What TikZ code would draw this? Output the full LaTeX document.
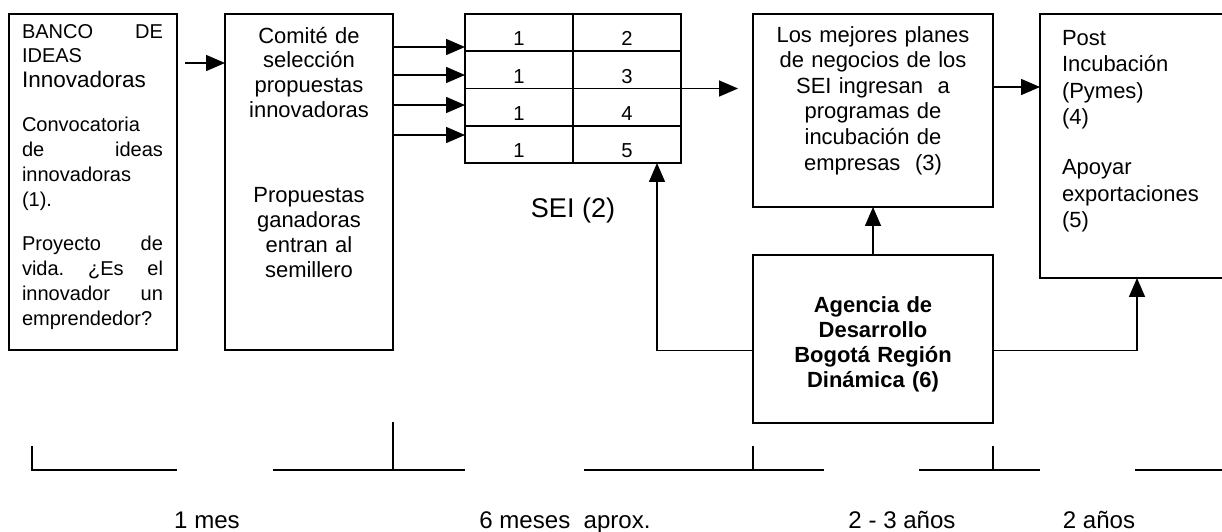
\documentclass[tikz,border=0pt]{standalone}
\usepackage{fontspec}
\setmainfont{Liberation Sans}
\usetikzlibrary{arrows.meta}

\begin{document}
\begin{tikzpicture}[x=.02cm,y=-.02cm,>={Triangle[length=.38cm,width=.32cm]},
 every node/.style={font=\fontsize{12.5}{14.2}\selectfont,inner sep=0pt,outer sep=0pt},
 box/.style={draw,line width=1.1pt},
 cell/.style={draw,line width=1.1pt,minimum width=2.16cm,minimum height=.745cm,
  font=\fontsize{11.5}{13}\selectfont,text height=.53cm,text depth=0pt},
 txt/.style={anchor=base,align=center},
 arr/.style={->,line width=.85pt},
 tick/.style={line width=.85pt},
 lapso/.style={anchor=base,font=\fontsize{13.7}{16}\selectfont}]
\useasboundingbox (0,0) rectangle (1222,531);
\clip (0,0) rectangle (1222,531);
\node[box,minimum width=3.36cm,minimum height=6.72cm] (banco) at (93,182) {};
\node[box,minimum width=3.36cm,minimum height=6.72cm] (comite) at (309,182) {};
\node[box,minimum width=4.8cm,minimum height=3.86cm] (planes) at (873,110.5) {};
\node[box,minimum width=3.88cm,minimum height=5.28cm] (post) at (1137,146) {};
\node[box,minimum width=4.8cm,minimum height=3.36cm] (agencia) at (873,339) {};
\foreach \r [count=\i] in {2,3,4,5} {
 \node[cell] (l\i) at (519,{14+37.25*(\i-.5)}) {1};
 \node[cell] (r\i) at (627,{14+37.25*(\i-.5)}) {\r};
}
\node[anchor=base west,text width=2.82cm,align=left,font=\fontsize{11.4}{14.2}\selectfont] (bancotxt) at (22,38)
 {BANCO\hfill DE\\IDEAS\\{\fontsize{12.8}{14.2}\selectfont Innovadoras}\\[.38cm]Convocatoria\\de\hfill ideas\\innovadoras\\(1).\\[.38cm]Proyecto\hfill de\\vida.\hfill ¿Es\hfill el\\innovador\hfill un\\emprendedor?};
\node[txt,text width=3cm] (comitetxt) at (309,43)
 {Comité de\\selección\\propuestas\\innovadoras\\[1.2cm]Propuestas\\ganadoras\\entran al\\semillero};
\node[txt,text width=4.6cm,font=\fontsize{12.5}{14.6}\selectfont] (planestxt) at (873,42)
 {Los mejores planes\\de negocios de los\\SEI ingresan~ a\\programas de\\incubación de\\empresas~ (3)};
\node[anchor=base west,text width=3.6cm,align=left,font=\fontsize{12.5}{15.1}\selectfont] (posttxt) at (1062,45)
 {Post\\Incubación\\(Pymes)\\(4)\\[.47cm]Apoyar\\exportaciones\\(5)};
\node[txt,text width=4.4cm,font=\bfseries\fontsize{12.5}{14.4}\selectfont] (agenciatxt) at (873,312)
 {Agencia de\\Desarrollo\\Bogotá Región\\Dinámica (6)};
\node[anchor=base,font=\fontsize{15.4}{18}\selectfont] (sei) at (573,217) {SEI (2)};
\draw[arr,shorten <=.16cm] (banco.east |- 0,63) -- (comite.west |- 0,63);
\foreach \y in {47,75,105,135}
 \draw[arr] (comite.east |- 0,\y) -- (l1.west |- 0,\y);
\draw[arr,shorten >=.3cm] (r2.south east) -- (r2.south east -| planes.west);
\draw[arr] (planes.east |- 0,87) -- (post.west |- 0,87);
\draw[arr] (agencia.north) -- (planes.south);
\draw[arr] ([yshift=-.23cm]agencia.west) -| ([xshift=.6cm]r4.south);
\draw[arr] ([yshift=-.23cm]agencia.east) -| (post.south);
\draw[tick] (32,446) |- (177,470);
\draw[tick] (273,470) -- (465,470) (393,422) -- (393,470);
\draw[tick] (584,470) -- (824,470) (753,446) -- (753,470);
\draw[tick] (919,470) -- (1040,470) (993,446) -- (993,470);
\draw[tick] (1135,470) -- (1222,470);
\node[lapso] (mes) at (207,528) {1 mes};
\node[lapso] (meses) at (565,528) {6 meses~ aprox.};
\node[lapso] (anos) at (902,528) {2 - 3 años};
\node[lapso] (dos) at (1099,528) {2 años};
\end{tikzpicture}
\end{document}
